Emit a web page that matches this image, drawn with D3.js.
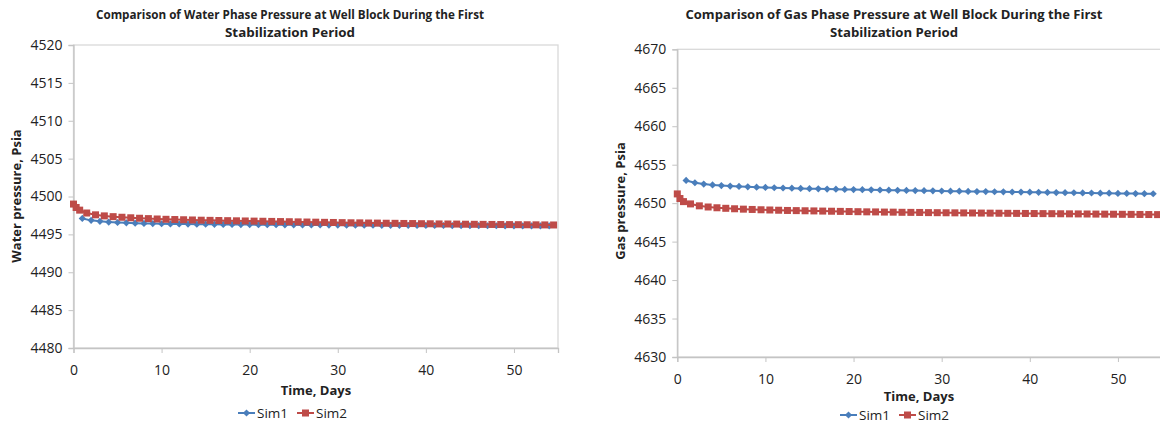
<!DOCTYPE html>
<html>
<head>
<meta charset="utf-8">
<script src="https://cdn.jsdelivr.net/npm/d3@7"></script>
<style>
  body { margin: 0; background: #fff; }
  text { font-family: "Open Sans", "Liberation Sans", sans-serif; fill: #222; }
</style>
</head>
<body>
<svg id="rootDisplay" width="1160" height="423"></svg>
<script>
// ---- data ----
const sim1Days = [1, 2, 3, 4, 5, 6, 7, 8, 9, 10, 11, 12, 13, 14, 15, 16, 17, 18, 19, 20,
    21, 22, 23, 24, 25, 26, 27, 28, 29, 30, 31, 32, 33, 34, 35, 36, 37, 38, 39, 40,
    41, 42, 43, 44, 45, 46, 47, 48, 49, 50, 51, 52, 53, 54];
const sim2Days = [0, 0.3, 0.7, 1.5, 2.5, 3.5, 4.5, 5.5, 6.5, 7.5, 8.5, 9.5,
    10.5, 11.5, 12.5, 13.5, 14.5, 15.5, 16.5, 17.5, 18.5, 19.5,
    20.5, 21.5, 22.5, 23.5, 24.5, 25.5, 26.5, 27.5, 28.5, 29.5,
    30.5, 31.5, 32.5, 33.5, 34.5, 35.5, 36.5, 37.5, 38.5, 39.5,
    40.5, 41.5, 42.5, 43.5, 44.5, 45.5, 46.5, 47.5, 48.5, 49.5,
    50.5, 51.5, 52.5, 53.5, 54.5];

const waterSim1 = [4497.10, 4496.85, 4496.72, 4496.63, 4496.57, 4496.52, 4496.48, 4496.45, 4496.42, 4496.40,
    4496.38, 4496.37, 4496.36, 4496.35, 4496.34, 4496.33, 4496.32, 4496.31, 4496.30, 4496.29,
    4496.28, 4496.28, 4496.27, 4496.26, 4496.26, 4496.25, 4496.24, 4496.24, 4496.23, 4496.23,
    4496.22, 4496.22, 4496.21, 4496.21, 4496.20, 4496.20, 4496.19, 4496.19, 4496.18, 4496.18,
    4496.17, 4496.17, 4496.16, 4496.16, 4496.15, 4496.15, 4496.14, 4496.14, 4496.13, 4496.13,
    4496.12, 4496.12, 4496.11, 4496.11];
const waterSim2 = [4499.00, 4498.55, 4498.20, 4497.82, 4497.58, 4497.44, 4497.34, 4497.26, 4497.19, 4497.13, 4497.08, 4497.03,
    4496.99, 4496.96, 4496.93, 4496.90, 4496.87, 4496.85, 4496.83, 4496.81, 4496.79, 4496.77,
    4496.75, 4496.73, 4496.71, 4496.69, 4496.67, 4496.65, 4496.63, 4496.61, 4496.59, 4496.57,
    4496.55, 4496.53, 4496.52, 4496.50, 4496.49, 4496.47, 4496.46, 4496.44, 4496.43, 4496.41,
    4496.40, 4496.38, 4496.37, 4496.36, 4496.34, 4496.33, 4496.32, 4496.31, 4496.30, 4496.29,
    4496.28, 4496.27, 4496.26, 4496.25, 4496.24];

const gasSim1 = [4652.95, 4652.65, 4652.48, 4652.37, 4652.29, 4652.22, 4652.17, 4652.12, 4652.08, 4652.04,
    4652.00, 4651.97, 4651.94, 4651.91, 4651.88, 4651.86, 4651.83, 4651.81, 4651.79, 4651.77,
    4651.75, 4651.73, 4651.71, 4651.69, 4651.67, 4651.65, 4651.63, 4651.62, 4651.60, 4651.58,
    4651.56, 4651.55, 4651.53, 4651.51, 4651.50, 4651.48, 4651.47, 4651.45, 4651.44, 4651.42,
    4651.41, 4651.39, 4651.38, 4651.36, 4651.35, 4651.33, 4651.32, 4651.30, 4651.29, 4651.27,
    4651.26, 4651.24, 4651.23, 4651.22];
const gasSim2 = [4651.20, 4650.60, 4650.20, 4649.90, 4649.65, 4649.50, 4649.40, 4649.33, 4649.27, 4649.22, 4649.18, 4649.14,
    4649.11, 4649.08, 4649.05, 4649.03, 4649.01, 4648.99, 4648.97, 4648.95, 4648.93, 4648.91,
    4648.89, 4648.87, 4648.86, 4648.84, 4648.83, 4648.81, 4648.80, 4648.79, 4648.77, 4648.76,
    4648.75, 4648.74, 4648.73, 4648.72, 4648.71, 4648.70, 4648.69, 4648.68, 4648.67, 4648.66,
    4648.65, 4648.64, 4648.63, 4648.62, 4648.61, 4648.60, 4648.59, 4648.58, 4648.57, 4648.56,
    4648.55, 4648.54, 4648.53, 4648.52, 4648.51];

const xTicks = [0, 10, 20, 30, 40, 50];
const waterTicks = [4480, 4485, 4490, 4495, 4500, 4505, 4510, 4515, 4520];
const gasTicks = [4630, 4635, 4640, 4645, 4650, 4655, 4660, 4665, 4670];
const seriesNames = ["Sim1", "Sim2"];

const blue = "#4a7ebb";
const red = "#be4b48";
const gridGrey = "#d9d9d9";

const svg = d3.select("#rootDisplay");
const diamond = d3.symbol(d3.symbolSquare, 26);

/**
 * Draw one of the two panels.
 */
function drawPanel(p) {
    const x = d3.scaleLinear().domain([0, 55]).range([p.left, p.right]);
    const y = d3.scaleLinear().domain([p.ticks[0], p.ticks[p.ticks.length - 1]]).range([p.bottom, p.top]);
    const g = svg.append("g");

    // plot area frame
    g.append("rect")
        .attr("x", p.left).attr("y", p.top)
        .attr("width", p.right - p.left).attr("height", p.bottom - p.top)
        .attr("fill", "none").attr("stroke", gridGrey).attr("stroke-width", 1.3);

    const yAxis = g.append("g")
        .attr("transform", `translate(${p.left},0)`)
        .call(d3.axisLeft(y).tickValues(p.ticks).tickSize(5).tickPadding(6).tickFormat(d3.format("d")));
    const xAxis = g.append("g")
        .attr("transform", `translate(0,${p.bottom})`)
        .call(d3.axisBottom(x).tickValues(xTicks).tickSize(5).tickPadding(p.xPad));
    [yAxis, xAxis].forEach(a => {
        a.select(".domain").attr("stroke", "#c4c4c4").attr("stroke-width", 1.3);
        a.selectAll(".tick line").attr("stroke", "#c4c4c4");
        a.selectAll("text").attr("font-size", 14).attr("fill", "#222")
            .attr("font-family", "'Open Sans', sans-serif");
    });

    const line = d3.line().x(d => x(d[0])).y(d => y(d[1]));
    const s1 = p.sim1.map((v, i) => [sim1Days[i], v]);
    const s2 = p.sim2.map((v, i) => [sim2Days[i], v]);

    const clipId = "clip" + Math.round(p.left);
    g.append("clipPath").attr("id", clipId).append("rect")
        .attr("x", p.left - 10).attr("y", p.top - 10)
        .attr("width", p.right - p.left + 20).attr("height", p.bottom - p.top + 20);
    const marks = g.append("g").attr("clip-path", `url(#${clipId})`);

    // Sim1 first, Sim2 on top like the reference
    marks.append("path").datum(s1)
        .attr("d", line).attr("fill", "none").attr("stroke", blue).attr("stroke-width", 2);
    marks.selectAll(".dm").data(s1).enter().append("path")
        .attr("d", diamond)
        .attr("transform", d => `translate(${x(d[0])},${y(d[1])}) rotate(45)`)
        .attr("fill", blue);

    marks.append("path").datum(s2)
        .attr("d", line).attr("fill", "none").attr("stroke", red).attr("stroke-width", 2);
    marks.selectAll(".sq").data(s2).enter().append("rect")
        .attr("x", d => x(d[0]) - 3.5).attr("y", d => y(d[1]) - 3.5)
        .attr("width", 7).attr("height", 7).attr("fill", red);

    // title
    const title = g.append("text")
        .attr("text-anchor", "middle").attr("font-weight", "bold").attr("font-size", 12.5);
    p.title.forEach((t, i) => {
        title.append("tspan").attr("x", p.titleX).attr("y", 19 + i * 18)
            .attr("textLength", p.titleLen[i]).attr("lengthAdjust", "spacingAndGlyphs").text(t);
    });

    // axis titles
    g.append("text")
        .attr("transform", `translate(${p.yLabelX},${p.yLabelY}) rotate(-90)`)
        .attr("text-anchor", "middle").attr("font-weight", "bold").attr("font-size", 13)
        .text(p.yLabel);
    g.append("text")
        .attr("x", p.xLabelX).attr("y", p.xLabelY)
        .attr("text-anchor", "middle").attr("font-weight", "bold").attr("font-size", 13)
        .text("Time, Days");

    // legend
    const lg = g.append("g").attr("transform", `translate(${p.legendX},${p.legendY})`);
    seriesNames.forEach((name, i) => {
        const ox = i * p.legendGap;
        const c = i === 0 ? blue : red;
        lg.append("line").attr("x1", ox).attr("x2", ox + 17).attr("y1", 0).attr("y2", 0)
            .attr("stroke", c).attr("stroke-width", 2);
        if (i === 0) {
            lg.append("path").attr("d", diamond)
                .attr("transform", `translate(${ox + 8.5},0) rotate(45)`).attr("fill", c);
        } else {
            lg.append("rect").attr("x", ox + 5).attr("y", -3.5).attr("width", 7).attr("height", 7).attr("fill", c);
        }
        lg.append("text").attr("x", ox + 19).attr("y", 5).attr("font-size", 13.5).text(name);
    });
}

drawPanel({
    left: 73.5, right: 558, top: 45, bottom: 348,
    ticks: waterTicks, sim1: waterSim1, sim2: waterSim2, xPad: 12,
    title: ["Comparison of Water Phase Pressure at Well Block During the First", "Stabilization Period"],
    titleX: 290, titleLen: [388, 130],
    yLabel: "Water pressure, Psia", yLabelX: 21, yLabelY: 196,
    xLabelX: 316, xLabelY: 395,
    legendX: 238, legendY: 413, legendGap: 59
});

drawPanel({
    left: 677.3, right: 1162, top: 49.3, bottom: 357,
    ticks: gasTicks, sim1: gasSim1, sim2: gasSim2, xPad: 12,
    title: ["Comparison of Gas Phase Pressure at Well Block During the First", "Stabilization Period"],
    titleX: 894, titleLen: [417, 128],
    yLabel: "Gas pressure, Psia", yLabelX: 625, yLabelY: 201,
    xLabelX: 919, xLabelY: 401,
    legendX: 840, legendY: 415, legendGap: 59
});
</script>
</body>
</html>
